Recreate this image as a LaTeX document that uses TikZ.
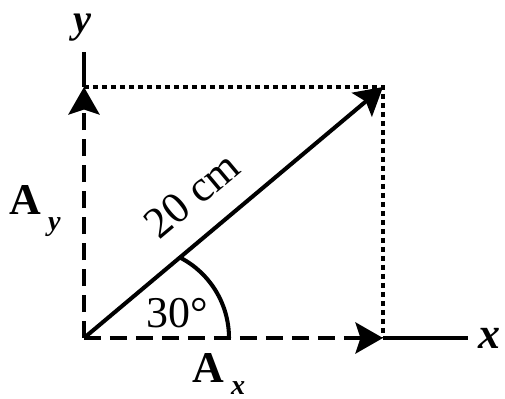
\documentclass[tikz,border=0pt]{standalone}
\usepackage{fontspec}
\setmainfont{Liberation Serif}
\usepackage{tikz}
\usetikzlibrary{arrows.meta,positioning,calc}

\begin{document}
\begin{tikzpicture}[
  x=0.02cm,y=0.02cm,
  lbl/.style={inner sep=0pt,font=\fontsize{25}{29}\selectfont},
  axln/.style={line width=2.3pt},
  comp/.style={line width=2.6pt,dash pattern=on 0.34cm off 0.18cm,
               -{Stealth[length=0.55cm,width=0.62cm,inset=0.1cm]}},
  proj/.style={line width=2.4pt,dash pattern=on 0.1cm off 0.08cm},
  vec/.style={line width=2.3pt,
              -{Stealth[length=0.55cm,width=0.62cm,inset=0.1cm]}},
  ]
  \useasboundingbox (0,0) rectangle (505,399);

  % corners of the projection box
  \coordinate (O) at (84,61);
  \coordinate (Ax) at (383,61);
  \coordinate (Ay) at (84,312);
  \coordinate (C) at (383,312);
  \coordinate (xend) at (468,61);
  \coordinate (yend) at (84,347);
  \coordinate (ang0) at (229,61);

  \node[lbl,anchor=base,font=\fontsize{23}{27}\selectfont] (ylab) at (82,366)
    {\bfseries\itshape y};
  \node[lbl] (xlab) at (489,61) {\bfseries\itshape x};
  \node[lbl,anchor=base west] (aylab) at (9,184)
    {\bfseries A\hspace{4pt}\raisebox{-9pt}{\itshape\fontsize{16}{18}\selectfont y}};
  \node[lbl,anchor=base west] (axlab) at (192,16)
    {\bfseries A\hspace{4pt}\raisebox{-6.5pt}{\itshape\fontsize{16}{18}\selectfont x}};
  \node[lbl] (ang) at (177,86) {30°};
  \node[lbl,rotate=40] (len) at (192,204) {20 cm};

  \draw[axln] (Ax) -- (xend);
  \draw[axln] (Ay) -- (yend);
  \draw[proj] (Ay) -- (C) -- (Ax);
  \draw[comp] (O) -- (Ax);
  \draw[comp] (O) -- (Ay);
  \draw[vec] (O) -- (C);
  \draw[axln] (ang0) arc[start angle=0,end angle=62.7,radius=90.6];
\end{tikzpicture}
\end{document}
